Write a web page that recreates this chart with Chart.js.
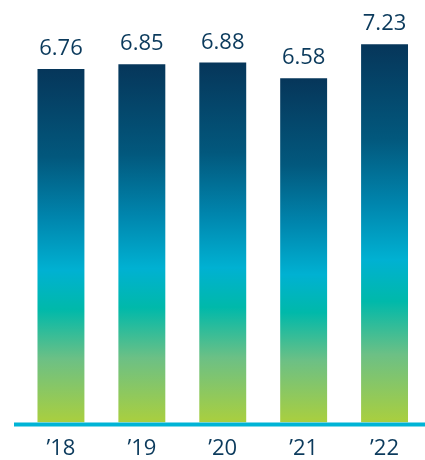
<!DOCTYPE html>
<html>
<head>
<meta charset="utf-8">
<script src="https://cdn.jsdelivr.net/npm/chart.js@4/dist/chart.umd.min.js"></script>
<style>
html,body{margin:0;padding:0;background:#fff;overflow:hidden;}
#wrap{position:relative;width:425px;height:460px;}
</style>
</head>
<body>
<div id="wrap"><canvas id="c" width="425" height="460"></canvas></div>
<script>
const categories = ['\u201918', '\u201919', '\u201920', '\u201921', '\u201922'];
const values = [6.76, 6.85, 6.88, 6.58, 7.23];
const valueLabels = ['6.76', '6.85', '6.88', '6.58', '7.23'];

const textColor = '#0b3a5c';
const gradientStops = [
  [0.00, '#06365a'],
  [0.25, '#02587d'],
  [0.42, '#0085ad'],
  [0.57, '#00b1d2'],
  [0.68, '#00b9aa'],
  [0.82, '#6cc085'],
  [1.00, '#aacf3e']
];

function barGradient(ctx) {
  const chart = ctx.chart;
  const y = chart.scales.y;
  if (!y || ctx.parsed == null || !chart.chartArea) return '#0090b8';
  const top = y.getPixelForValue(ctx.parsed.y);
  const bottom = y.getPixelForValue(0);
  const g = chart.ctx.createLinearGradient(0, top, 0, bottom);
  gradientStops.forEach(s => g.addColorStop(s[0], s[1]));
  return g;
}

const valueLabelPlugin = {
  id: 'valueLabels',
  afterDatasetsDraw(chart) {
    const c = chart.ctx;
    const meta = chart.getDatasetMeta(0);
    c.save();
    c.font = '22px "Open Sans"';
    c.fillStyle = textColor;
    c.textAlign = 'center';
    c.textBaseline = 'alphabetic';
    meta.data.forEach((bar, i) => {
      c.fillText(valueLabels[i], bar.x, bar.y - 14);
    });
    c.restore();
  }
};

const baselinePlugin = {
  id: 'baseline',
  afterDatasetsDraw(chart) {
    const c = chart.ctx;
    const y0 = chart.scales.y.getPixelForValue(0);
    c.save();
    c.strokeStyle = '#00b4d6';
    c.lineWidth = 4;
    c.beginPath();
    c.moveTo(14, y0 + 2);
    c.lineTo(chart.width, y0 + 2);
    c.stroke();
    c.restore();
  }
};

new Chart(document.getElementById('c'), {
  type: 'bar',
  data: {
    labels: categories,
    datasets: [{
      data: values,
      backgroundColor: barGradient,
      borderWidth: 0,
      barPercentage: 0.58,
      categoryPercentage: 1
    }]
  },
  options: {
    responsive: false,
    animation: false,
    devicePixelRatio: 1,
    layout: { padding: { left: 20.5, right: -5, top: 4, bottom: -15 } },
    plugins: { legend: { display: false }, tooltip: { enabled: false } },
    scales: {
      x: {
        grid: { display: false, drawTicks: false },
        border: { display: false },
        ticks: {
          color: textColor,
          font: { family: 'Open Sans', size: 22 },
          padding: 13,
          maxRotation: 0,
          autoSkip: false
        }
      },
      y: {
        display: false,
        min: 0,
        max: 8
      }
    }
  },
  plugins: [valueLabelPlugin, baselinePlugin]
});
</script>
</body>
</html>
